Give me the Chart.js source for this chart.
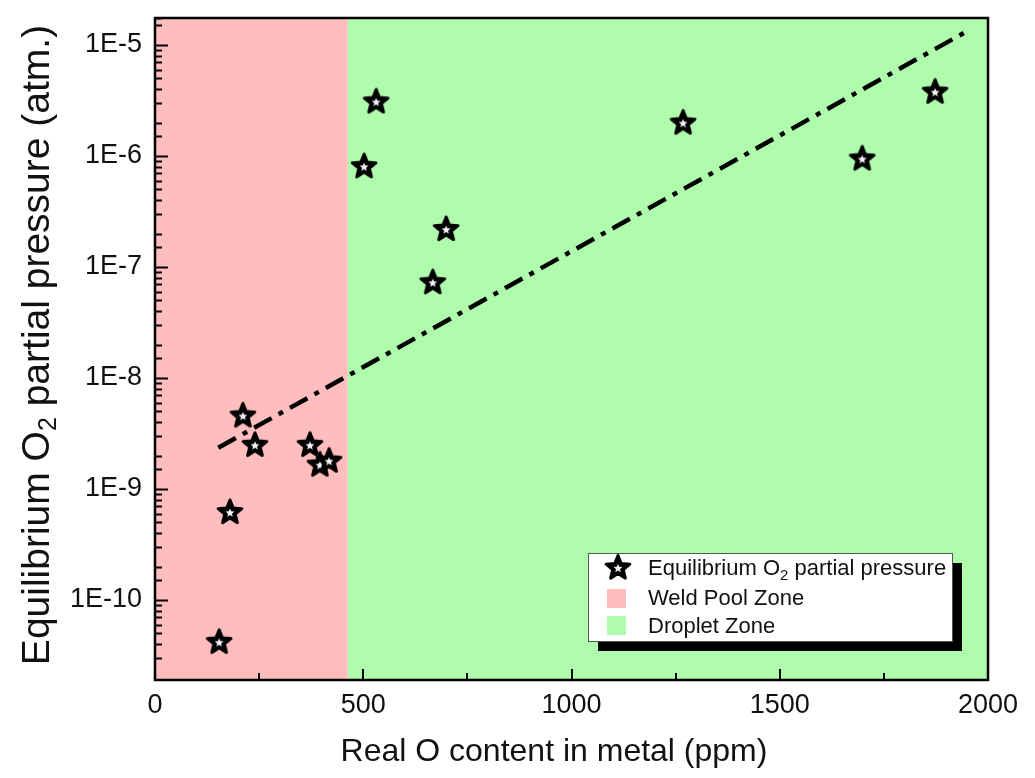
<!DOCTYPE html>
<html>
<head>
<meta charset="utf-8">
<script src="https://cdn.jsdelivr.net/npm/chart.js@4"></script>
<style>
  body { margin: 0; background: #fff; }
  #wrap { width: 1035px; height: 778px; }
</style>
</head>
<body>
<div id="wrap"><canvas id="plots"></canvas></div>
<script>
// measured points (ppm, atm)
var oxygen = [154, 180, 211, 240, 372, 396, 418, 502, 531, 667, 699, 1268, 1698, 1873];
var pO2 = [4.2e-11, 6.2e-10, 4.6e-9, 2.5e-9, 2.5e-9, 1.66e-9, 1.8e-9, 8.1e-7, 3.1e-6, 7.3e-8, 2.2e-7, 2.0e-6, 9.5e-7, 3.8e-6];
// dash-dot fit line ends
var fitX = [152, 1945];
var fitY = [2.35e-9, 1.3e-5];
// zones
var weldLimit = 463;
var xMax = 2000;
var legendLabels = ["Equilibrium O", "Weld Pool Zone", "Droplet Zone"];

var pink = "#ffbdbd", green = "#b0fcad";
var FONT = "'Liberation Sans', Arial, sans-serif";

function starPath(ctx, cx, cy, R, r) {
  ctx.beginPath();
  for (var i = 0; i < 10; i++) {
    var a = -Math.PI / 2 + i * Math.PI / 5;
    var rad = i % 2 ? r : R;
    ctx.lineTo(cx + rad * Math.cos(a), cy + rad * Math.sin(a));
  }
  ctx.closePath();
}
function drawStar(ctx, cx, cy) {
  ctx.save();
  starPath(ctx, cx, cy, 12.5, 5.5);
  ctx.fillStyle = "#000";
  ctx.fill();
  ctx.lineWidth = 3;
  ctx.lineJoin = "round";
  ctx.strokeStyle = "#000";
  ctx.stroke();
  starPath(ctx, cx, cy + 0.5, 4.6, 2.1);
  ctx.fillStyle = "#f4f0fa";
  ctx.fill();
  ctx.restore();
}
var starImg = document.createElement("canvas");
starImg.width = 32; starImg.height = 32;
drawStar(starImg.getContext("2d"), 16, 16.5);

var pts = oxygen.map(function (x, i) { return {x: x, y: pO2[i]}; });
var fit = fitX.map(function (x, i) { return {x: x, y: fitY[i]}; });

function isDecade(v) {
  var l = Math.log10(v);
  return Math.abs(l - Math.round(l)) < 1e-6;
}

var decor = {
  id: "decor",
  beforeDatasetsDraw: function (chart) {
    var ctx = chart.ctx, a = chart.chartArea, xs = chart.scales.x;
    var xb = xs.getPixelForValue(weldLimit);
    ctx.save();
    ctx.fillStyle = pink;
    ctx.fillRect(a.left, a.top, xb - a.left, a.bottom - a.top);
    ctx.fillStyle = green;
    ctx.fillRect(xb, a.top, a.right - xb, a.bottom - a.top);
    ctx.restore();
  },
  afterDatasetsDraw: function (chart) {
    var ctx = chart.ctx, a = chart.chartArea, xs = chart.scales.x, ys = chart.scales.y;
    ctx.save();
    ctx.strokeStyle = "#000";
    ctx.lineWidth = 2;
    // inward ticks
    ys.ticks.forEach(function (t) {
      var p = Math.round(ys.getPixelForValue(t.value)) + 0.5;
      if (p < a.top || p > a.bottom) return;
      var len = isDecade(t.value) ? 13 : 7;
      ctx.beginPath(); ctx.moveTo(a.left, p); ctx.lineTo(a.left + len, p); ctx.stroke();
    });
    xs.ticks.forEach(function (t) {
      var p = Math.round(xs.getPixelForValue(t.value));
      var len = t.value % 500 === 0 ? 11 : 7;
      ctx.beginPath(); ctx.moveTo(p, a.bottom); ctx.lineTo(p, a.bottom - len); ctx.stroke();
    });
    ctx.lineWidth = 2.5;
    ctx.strokeRect(a.left, a.top, a.right - a.left, a.bottom - a.top);

    // legend
    var lx = 588, ly = 553, lw = 364, lh = 88;
    ctx.fillStyle = "#000";
    ctx.fillRect(lx + 10, ly + 10, lw, lh);
    ctx.fillStyle = "#fff";
    ctx.fillRect(lx, ly, lw, lh);
    ctx.lineWidth = 1;
    ctx.strokeStyle = "#555";
    ctx.strokeRect(lx + 0.5, ly + 0.5, lw, lh);
    drawStar(ctx, lx + 30, ly + 15);
    ctx.fillStyle = pink;
    ctx.fillRect(lx + 19, ly + 36, 19, 19);
    ctx.fillStyle = green;
    ctx.fillRect(lx + 19, ly + 63, 19, 19);
    ctx.fillStyle = "#111";
    ctx.textBaseline = "middle";
    ctx.textAlign = "left";
    ctx.font = "22px " + FONT;
    var tx = lx + 60;
    ctx.fillText(legendLabels[0], tx, ly + 16);
    var w = ctx.measureText(legendLabels[0]).width;
    ctx.font = "15px " + FONT;
    ctx.fillText("2", tx + w, ly + 23);
    var w2 = ctx.measureText("2").width;
    ctx.font = "22px " + FONT;
    ctx.fillText(" partial pressure", tx + w + w2, ly + 16);
    ctx.fillText(legendLabels[1], tx, ly + 46);
    ctx.fillText(legendLabels[2], tx, ly + 74);

    // axis titles
    ctx.font = "32px " + FONT;
    ctx.textAlign = "center";
    ctx.fillText("Real O content in metal (ppm)", 554, 752);

    ctx.translate(38, 345);
    ctx.rotate(-Math.PI / 2);
    var big = "39px " + FONT, small = "25px " + FONT;
    var p1 = "Equilibrium O", p2 = "2", p3 = " partial pressure (atm.)";
    ctx.font = big; var w1 = ctx.measureText(p1).width, w3 = ctx.measureText(p3).width;
    ctx.font = small; var ws = ctx.measureText(p2).width;
    var x0 = -(w1 + ws + w3) / 2;
    ctx.textAlign = "left";
    ctx.font = big; ctx.fillText(p1, x0, 0);
    ctx.font = small; ctx.fillText(p2, x0 + w1, 11);
    ctx.font = big; ctx.fillText(p3, x0 + w1 + ws, 0);
    ctx.restore();
  }
};

new Chart(document.getElementById("plots"), {
  type: "scatter",
  data: {
    datasets: [{
      label: "Equilibrium O2 partial pressure",
      data: pts,
      pointStyle: starImg,
      pointRadius: 13,
      pointHoverRadius: 13,
      showLine: false
    }, {
      label: "fit",
      data: fit,
      showLine: true,
      pointRadius: 0,
      borderColor: "#000",
      borderWidth: 4.5,
      borderDash: [20, 8, 5, 8],
      order: 1
    }]
  },
  options: {
    responsive: true,
    maintainAspectRatio: false,
    animation: false,
    layout: { padding: { top: 18, right: 47, left: 0, bottom: 0 } },
    plugins: { legend: { display: false }, tooltip: { enabled: false } },
    scales: {
      x: {
        type: "linear", min: 0, max: xMax,
        grid: { display: false, drawTicks: false },
        border: { display: false },
        ticks: {
          stepSize: 250, autoSkip: false, maxRotation: 0, padding: 9,
          color: "#111", font: { size: 27, family: FONT },
          callback: function (v) { return v % 500 === 0 ? String(v) : ""; }
        },
        afterFit: function (s) { s.height = 98; s.paddingLeft = 0; s.paddingRight = 0; }
      },
      y: {
        type: "logarithmic", min: 1.9e-11, max: 1.75e-5,
        grid: { display: false, drawTicks: false },
        border: { display: false },
        ticks: {
          autoSkip: false, padding: 13,
          color: "#111", font: { size: 27, family: FONT },
          callback: function (v) {
            return isDecade(v) ? "1E" + Math.round(Math.log10(v)) : "";
          }
        },
        afterFit: function (s) { s.width = 155; s.paddingTop = 0; s.paddingBottom = 0; }
      }
    }
  },
  plugins: [decor]
});
</script>
</body>
</html>
